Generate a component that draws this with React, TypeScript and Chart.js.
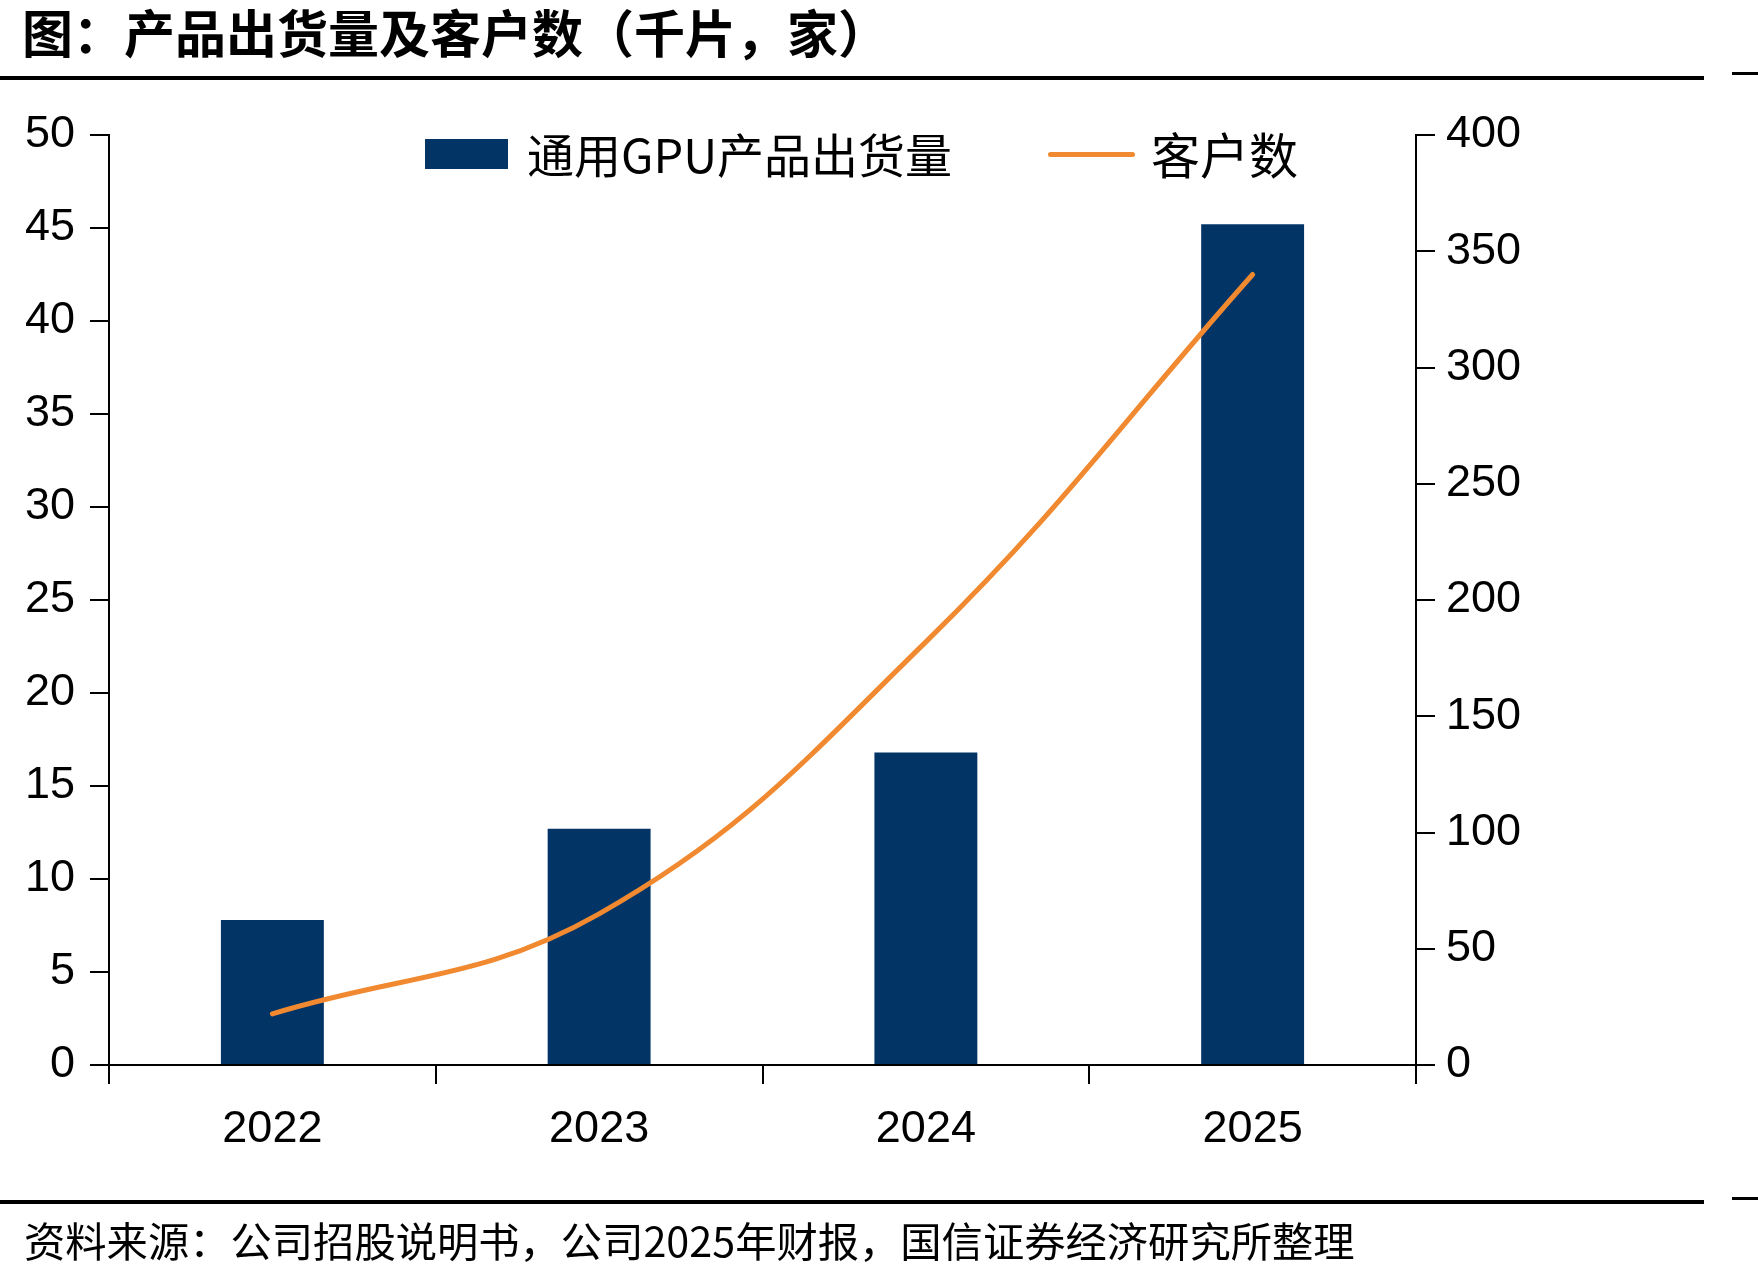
import { useEffect, useRef } from "react";
import { Chart, registerables } from "chart.js";

Chart.register(...registerables);

// Years on the category axis
const years = ["2022", "2023", "2024", "2025"];
// 通用GPU产品出货量（千片）
const gpuShipments = [7.8, 12.7, 16.8, 45.2];
// 客户数（家）
const customerCounts = [22, 65, 182, 340];

const titleText = "图：产品出货量及客户数（千片，家）";
const sourceText = "资料来源：公司招股说明书，公司2025年财报，国信证券经济研究所整理";
const barLabel = "通用GPU产品出货量";
const lineLabel = "客户数";

const W = 1758;
const H = 1277;
const AREA = { left: 109, right: 1416, top: 135, bottom: 1065 };

const NAVY = "#033466";
const ORANGE = "#F0892F";
const CJK = '"Noto Sans CJK SC", "Noto Sans", sans-serif';
const NUM = '"Liberation Sans", Arial, sans-serif';

export default function App() {
  const canvasRef = useRef<HTMLCanvasElement | null>(null);

  useEffect(() => {
    const canvas = canvasRef.current;
    if (!canvas) return;
    const tickFont = { family: NUM, size: 45 };
    const axisGrid = {
      drawOnChartArea: false,
      drawTicks: true,
      tickLength: 19,
      color: "#000",
      lineWidth: 2,
    };
    const axisBorder = { display: true, color: "#000", width: 2 };

    const chart = new Chart(canvas, {
      type: "bar",
      data: {
        labels: years,
        datasets: [
          {
            type: "line",
            label: lineLabel,
            data: customerCounts,
            yAxisID: "y1",
            borderColor: ORANGE,
            backgroundColor: ORANGE,
            borderWidth: 5,
            borderCapStyle: "round",
            pointRadius: 0,
            tension: 0.4,
            order: 0,
          },
          {
            type: "bar",
            label: barLabel,
            data: gpuShipments,
            yAxisID: "y",
            backgroundColor: NAVY,
            categoryPercentage: 0.315,
            barPercentage: 1,
            order: 1,
          },
        ],
      },
      options: {
        responsive: false,
        animation: false,
        devicePixelRatio: 1,
        layout: { padding: { top: AREA.top, left: 0, right: 0, bottom: 0 } },
        plugins: {
          legend: { display: false },
          tooltip: { enabled: false },
        },
        scales: {
          x: {
            offset: true,
            grid: { ...axisGrid, offset: true },
            border: axisBorder,
            ticks: { color: "#000", font: tickFont, padding: 19 },
            afterFit: (s: any) => {
              s.height = H - AREA.bottom;
            },
          },
          y: {
            position: "left",
            min: 0,
            max: 50,
            grid: axisGrid,
            border: axisBorder,
            ticks: { stepSize: 5, color: "#000", font: tickFont, padding: 15 },
            afterFit: (s: any) => {
              s.width = AREA.left;
            },
          },
          y1: {
            position: "right",
            min: 0,
            max: 400,
            grid: axisGrid,
            border: axisBorder,
            ticks: { stepSize: 50, color: "#000", font: tickFont, padding: 11 },
            afterFit: (s: any) => {
              s.width = W - AREA.right;
            },
          },
        },
      },
    });
    return () => chart.destroy();
  }, []);

  const abs = (style: any) => ({ position: "absolute" as const, ...style });

  return (
    <div
      style={{
        position: "absolute",
        left: 0,
        top: 0,
        width: W,
        height: H,
        background: "#fff",
        overflow: "hidden",
      }}
    >
      <canvas
        ref={canvasRef}
        width={W}
        height={H}
        style={{ position: "absolute", left: 0, top: 0, width: W, height: H }}
      />
      {/* title and rules */}
      <div
        style={abs({
          left: 22,
          top: 6,
          font: `bold 51px ${CJK}`,
          lineHeight: "51px",
          whiteSpace: "nowrap",
          color: "#000",
        })}
      >
        {titleText}
      </div>
      <div style={abs({ left: 0, top: 76, width: 1704, height: 4, background: "#000" })} />
      <div style={abs({ left: 1732, top: 72, width: 26, height: 3, background: "#000" })} />
      {/* legend */}
      <div style={abs({ left: 425, top: 139, width: 83, height: 30, background: NAVY })} />
      <div
        style={abs({
          left: 527,
          top: 129,
          font: `47px ${CJK}`,
          lineHeight: "47px",
          whiteSpace: "nowrap",
          color: "#000",
        })}
      >
        {barLabel}
      </div>
      <div
        style={abs({
          left: 1048,
          top: 151.5,
          width: 87,
          height: 5,
          borderRadius: 3,
          background: ORANGE,
        })}
      />
      <div
        style={abs({
          left: 1151,
          top: 128,
          font: `49px ${CJK}`,
          lineHeight: "49px",
          whiteSpace: "nowrap",
          color: "#000",
        })}
      >
        {lineLabel}
      </div>
      {/* source note */}
      <div style={abs({ left: 0, top: 1200, width: 1704, height: 4, background: "#000" })} />
      <div style={abs({ left: 1732, top: 1197, width: 26, height: 3, background: "#000" })} />
      <div
        style={abs({
          left: 24,
          top: 1219,
          font: `41.3px ${CJK}`,
          lineHeight: "41.3px",
          whiteSpace: "nowrap",
          color: "#000",
        })}
      >
        {sourceText}
      </div>
    </div>
  );
}
